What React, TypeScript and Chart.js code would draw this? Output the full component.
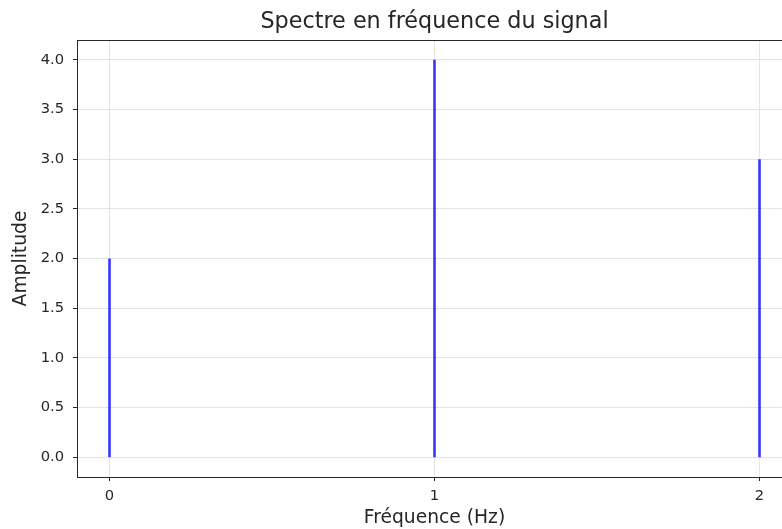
import React, { useEffect, useRef } from "react";
import { Chart, registerables } from "chart.js";

Chart.register(...registerables);

const frequencies = [0, 1, 2];
const amplitudes = [2, 4, 3];
const xTickValues = [0, 1, 2];
const yTickValues = [0, 0.5, 1, 1.5, 2, 2.5, 3, 3.5, 4];

const FONT = "'DejaVu Sans', sans-serif";

const frame = {
  id: "frame",
  afterDraw(chart: any) {
    const { ctx, chartArea } = chart;
    ctx.save();
    ctx.strokeStyle = "#262626";
    ctx.lineWidth = 1;
    ctx.strokeRect(
      Math.round(chartArea.left) + 0.5,
      Math.round(chartArea.top) + 0.5,
      chartArea.right - chartArea.left,
      chartArea.bottom - chartArea.top
    );
    ctx.restore();
  },
};

export default function App() {
  const ref = useRef<HTMLCanvasElement>(null);
  useEffect(() => {
    if (!ref.current) return;
    const datasets = frequencies.map((f, i) => ({
      data: [
        { x: f, y: 0 },
        { x: f, y: amplitudes[i] },
      ],
      borderColor: "rgba(0,0,255,0.75)",
      borderWidth: 2.7,
      pointRadius: 0,
      fill: false,
    }));
    const chart = new Chart(ref.current, {
      type: "line",
      data: { datasets },
      plugins: [frame],
      options: {
        animation: false,
        responsive: false,
        devicePixelRatio: 1,
        layout: { padding: { left: 0, right: 8, top: 0, bottom: 0 } },
        plugins: {
          legend: { display: false },
          tooltip: { enabled: false },
          title: {
            display: true,
            fullSize: false,
            text: "Spectre en fréquence du signal",
            color: "#262626",
            font: { family: FONT, size: 22.3, weight: "normal" },
            padding: { top: 9, bottom: 4.24 },
          },
        },
        scales: {
          x: {
            type: "linear",
            min: -0.1,
            max: 2.1,
            afterFit: (s: any) => {
              s.height = 52;
            },
            afterBuildTicks: (s: any) => {
              s.ticks = xTickValues.map((v) => ({ value: v }));
            },
            ticks: {
              color: "#262626",
              font: { family: FONT, size: 14.7 },
              padding: 6,
              maxRotation: 0,
              callback: (v: any) => String(v),
            },
            grid: { color: "#e4e4e4", lineWidth: 1, tickColor: "#262626", tickLength: 4 },
            border: { display: true, color: "#262626", width: 1 },
            title: {
              display: true,
              text: "Fréquence (Hz)",
              color: "#262626",
              font: { family: FONT, size: 18.7 },
              padding: { top: 0, bottom: 0 },
            },
          },
          y: {
            type: "linear",
            min: -0.2,
            max: 4.2,
            afterFit: (s: any) => {
              s.width = 77;
            },
            afterBuildTicks: (s: any) => {
              s.ticks = yTickValues.map((v) => ({ value: v }));
            },
            ticks: {
              color: "#262626",
              font: { family: FONT, size: 14.7 },
              padding: 9,
              callback: (v: any) => Number(v).toFixed(1),
            },
            grid: { color: "#e4e4e4", lineWidth: 1, tickColor: "#262626", tickLength: 4 },
            border: { display: true, color: "#262626", width: 1 },
            title: {
              display: true,
              text: "Amplitude",
              color: "#262626",
              font: { family: FONT, size: 18.7 },
              padding: { top: 10, bottom: 0 },
            },
          },
        },
      },
    });
    return () => chart.destroy();
  }, []);
  return (
    <div
      style={{
        position: "fixed",
        left: 0,
        top: 0,
        width: 782,
        height: 529,
        overflow: "hidden",
        background: "#fff",
      }}
    >
      <canvas ref={ref} width={800} height={529} style={{ display: "block" }} />
    </div>
  );
}
